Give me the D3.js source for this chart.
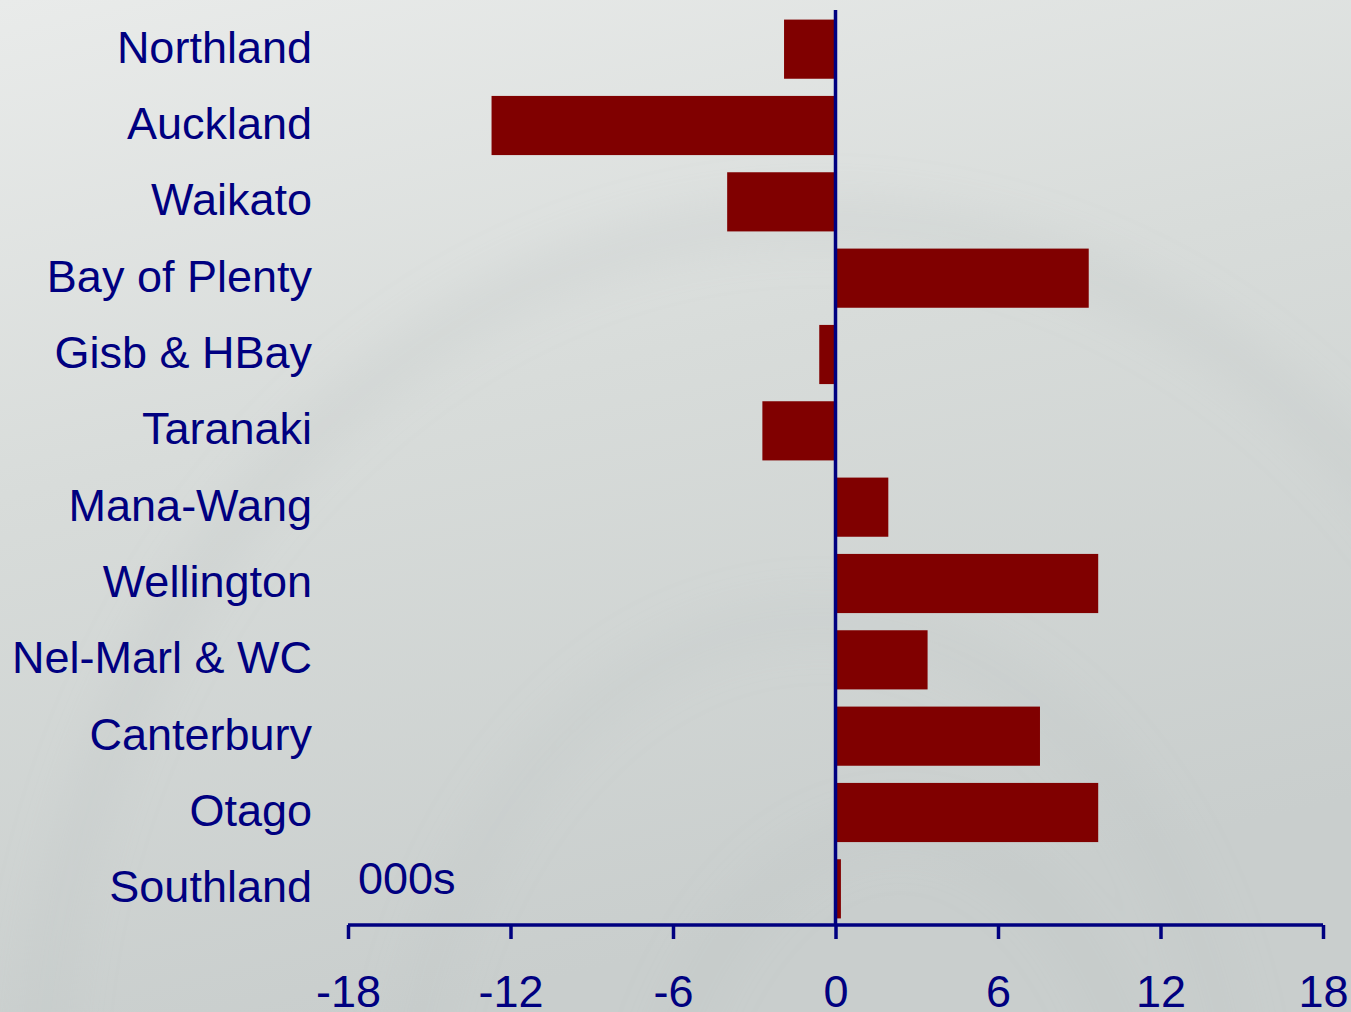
<!DOCTYPE html>
<html lang="en">
<head>
    <meta charset="UTF-8">
    <script src="https://d3js.org/d3.v7.min.js"></script>
    <title>Regional change</title>
    <style>
        body { margin: 0; overflow: hidden; }
        svg { display: block; }
        text { font-family: "Liberation Sans", Arial, sans-serif; fill: #000080; }
    </style>
</head>
<body>
    <div id="chart"></div>
    <script>
        // ---------- data ----------
        const regions = ["Northland", "Auckland", "Waikato", "Bay of Plenty", "Gisb & HBay", "Taranaki",
            "Mana-Wang", "Wellington", "Nel-Marl & WC", "Canterbury", "Otago", "Southland"];
        const changes = [-1.9, -12.7, -4.0, 9.35, -0.6, -2.7, 1.95, 9.7, 3.4, 7.55, 9.7, 0.2];
        const xTicks = [-18, -12, -6, 0, 6, 12, 18];
        const unitLabel = "000s";

        const width = 1351, height = 1012;
        const svg = d3.select("#chart").append("svg")
            .attr("width", width)
            .attr("height", height);

        // background with soft swirls
        const defs = svg.append("defs");
        const bg = defs.append("linearGradient").attr("id", "bg")
            .attr("x1", 0).attr("y1", 0).attr("x2", 0.3).attr("y2", 1);
        bg.append("stop").attr("offset", 0).attr("stop-color", "#e9ebea");
        bg.append("stop").attr("offset", 0.45).attr("stop-color", "#d8dcda");
        bg.append("stop").attr("offset", 1).attr("stop-color", "#c9cecd");
        defs.append("filter").attr("id", "blur")
            .append("feGaussianBlur").attr("stdDeviation", 24);

        svg.append("rect").attr("width", width).attr("height", height).attr("fill", "url(#bg)");
        const swirl = svg.append("g").attr("filter", "url(#blur)").attr("fill", "none");
        swirl.append("ellipse").attr("cx", 820).attr("cy", 1120).attr("rx", 780).attr("ry", 900)
            .attr("stroke", "#bcc2c2").attr("stroke-width", 30).attr("opacity", 0.35);
        swirl.append("ellipse").attr("cx", 820).attr("cy", 1180).attr("rx", 420).attr("ry", 560)
            .attr("stroke", "#b9bfc0").attr("stroke-width", 26).attr("opacity", 0.3);
        swirl.append("ellipse").attr("cx", 900).attr("cy", 1250).attr("rx", 260).attr("ry", 420)
            .attr("stroke", "#b6bcbd").attr("stroke-width", 22).attr("opacity", 0.3);

        // ---------- scales ----------
        const x = d3.scaleLinear().domain([-18, 18]).range([348, 1323]);
        const y = d3.scaleBand().domain(regions).range([11, 927])
            .paddingInner(0.225).paddingOuter(0.1125);

        // bars
        svg.append("g").selectAll("rect")
            .data(regions)
            .join("rect")
            .attr("x", (d, i) => x(Math.min(0, changes[i])))
            .attr("y", d => y(d))
            .attr("width", (d, i) => Math.abs(x(changes[i]) - x(0)))
            .attr("height", y.bandwidth())
            .attr("fill", "#800000");

        // zero line
        svg.append("line")
            .attr("x1", x(0)).attr("x2", x(0))
            .attr("y1", 10).attr("y2", 925)
            .attr("stroke", "#000080").attr("stroke-width", 3.5);

        // category labels
        svg.append("g").selectAll("text")
            .data(regions)
            .join("text")
            .attr("x", 312)
            .attr("y", d => y(d) + y.bandwidth() / 2)
            .attr("dy", "0.3em")
            .attr("text-anchor", "end")
            .attr("font-size", 45)
            .text(d => d);

        // x axis
        const xAxis = d3.axisBottom(x).tickValues(xTicks).tickSize(14).tickPadding(36).tickSizeOuter(0)
            .tickFormat(d => String(d));
        const gx = svg.append("g").attr("transform", "translate(0,925)").call(xAxis);
        gx.select(".domain").attr("stroke", "#000080").attr("stroke-width", 3.5)
            .attr("d", `M${x(-18)},0H${x(18)}`);
        gx.selectAll(".tick line").attr("stroke", "#000080").attr("stroke-width", 3.5);
        gx.selectAll(".tick text")
            .attr("font-size", 45)
            .style("font-family", '"Liberation Sans", Arial, sans-serif')
            .attr("fill", "#000080");

        svg.append("text")
            .attr("x", 358).attr("y", 894)
            .attr("font-size", 45)
            .text(unitLabel);
    </script>
</body>
</html>
